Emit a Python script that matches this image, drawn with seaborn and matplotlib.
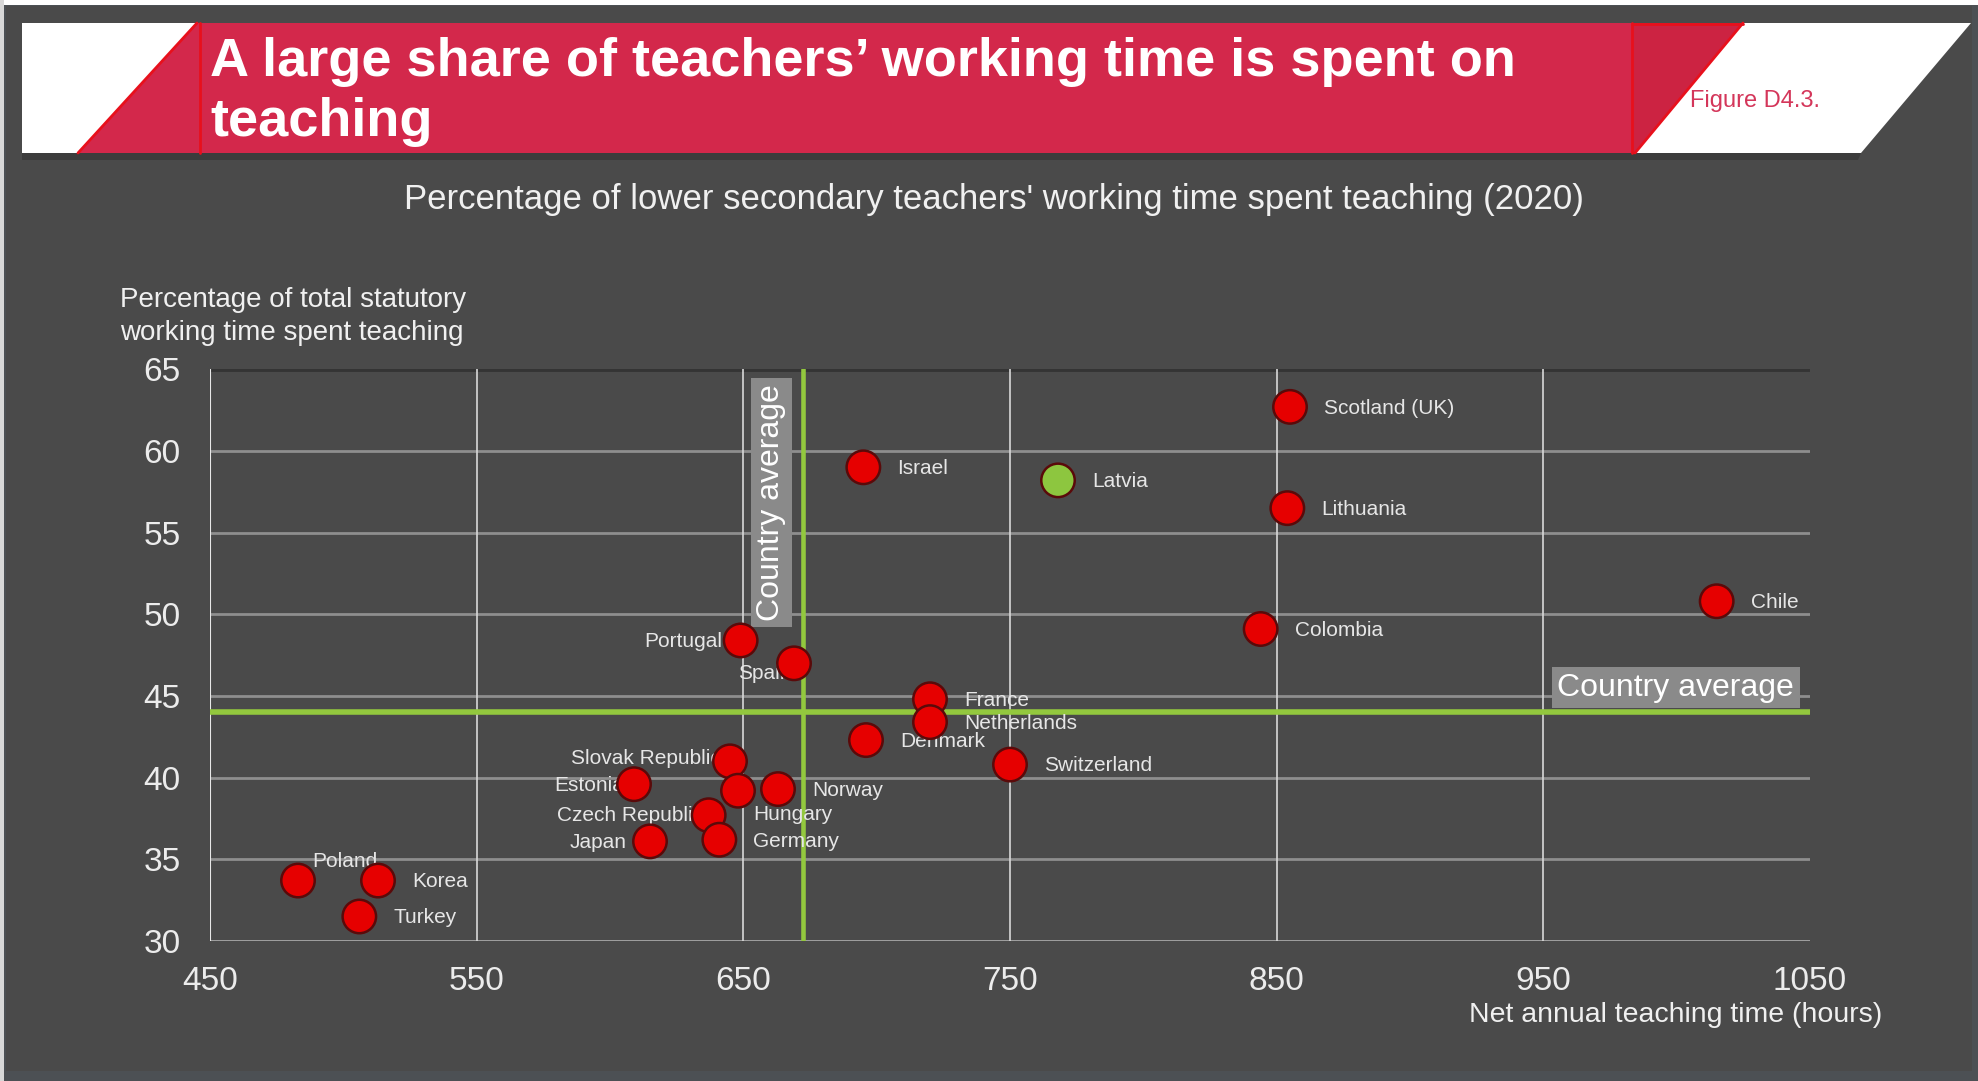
import numpy as np
import pandas as pd
import seaborn as sns
import matplotlib.pyplot as plt
from matplotlib.patches import Polygon, Rectangle

# values
countries = ['Scotland (UK)', 'Israel', 'Latvia', 'Lithuania', 'Chile', 'Colombia',
             'Portugal', 'Spain', 'France', 'Netherlands', 'Denmark', 'Switzerland',
             'Slovak Republic', 'Estonia', 'Hungary', 'Norway', 'Czech Republic',
             'Germany', 'Japan', 'Poland', 'Korea', 'Turkey']
teaching_hours = [855, 695, 768, 854, 1015, 844, 649, 669, 720, 720, 696, 750,
                  645, 609, 648, 663, 637, 641, 615, 483, 513, 506]
pct_teaching = [62.7, 59.0, 58.2, 56.5, 50.8, 49.1, 48.4, 47.0, 44.8, 43.4, 42.3, 40.8,
                41.0, 39.6, 39.2, 39.3, 37.7, 36.2, 36.1, 33.7, 33.7, 31.5]
avg_hours = 672.5
avg_pct = 44.0
x_ticks = [450, 550, 650, 750, 850, 950, 1050]
y_ticks = [30, 35, 40, 45, 50, 55, 60, 65]

df = pd.DataFrame({'country': countries, 'hours': teaching_hours, 'pct': pct_teaching})
df['group'] = np.where(df['country'] == 'Latvia', 'Latvia', 'Other')

# label placement (offset in points, horizontal alignment)
label_pos = {
    'Portugal': (-13, -1, 'right'), 'Spain': (-2, -7, 'right'),
    'Slovak Republic': (-7, 2, 'right'), 'Estonia': (-7, -1, 'right'),
    'Czech Republic': (-4, 0, 'right'), 'Japan': (-17, -1, 'right'),
    'Hungary': (11, -17, 'left'), 'Poland': (34, 14, 'center'),
}

sns.set_style('dark')
plt.rcParams['font.family'] = ['Liberation Sans', 'DejaVu Sans']

W, H = 1978, 1081
fig = plt.figure(figsize=(W / 100, H / 100), dpi=100)
fig.patch.set_facecolor('#4c5054')

def fx(px):
    return px / W

def fy(py):
    return 1 - py / H

# panel and thin white edges
fig.patches.append(Rectangle((fx(6), fy(1071)), fx(1966), 1065 / H, transform=fig.transFigure,
                             fc='#4a4a4a', ec='none', zorder=0))
fig.patches.append(Rectangle((0, fy(5)), 1, 5 / H, transform=fig.transFigure,
                             fc='white', ec='none', zorder=0))
fig.patches.append(Rectangle((0, 0), fx(4), 1, transform=fig.transFigure,
                             fc='#d8d8d8', ec='none', zorder=0))

# banner
def poly(pts, **kw):
    fig.patches.append(Polygon([(fx(a), fy(b)) for a, b in pts], closed=True,
                               transform=fig.transFigure, **kw))

poly([(22, 153), (22, 23), (1971, 23), (1861, 153)], fc='white', ec='none', zorder=1)
poly([(22, 153), (1861, 153), (1858, 160), (22, 160)], fc='#3c3c3c', ec='none', zorder=1)
poly([(78, 153), (197, 23), (1743, 23), (1635, 153)], fc='#d3284b', ec='none', zorder=2)
poly([(1632, 153), (1632, 23), (1743, 23), (1635, 153)], fc='#cc2342', ec='none', zorder=2)
for seg in [[(78, 153), (197, 23)], [(1743, 23), (1635, 153)], [(200, 23), (200, 153)],
            [(1632, 23), (1632, 153)], [(1632, 24), (1743, 24)]]:
    fig.lines.append(plt.Line2D([fx(seg[0][0]), fx(seg[1][0])], [fy(seg[0][1]), fy(seg[1][1])],
                                transform=fig.transFigure, color='#e8101c', lw=2, zorder=3))

fig.text(fx(210), fy(76), 'A large share of teachers\u2019 working time is spent on',
         color='white', fontsize=39, fontweight='bold', va='baseline', ha='left', zorder=4)
fig.text(fx(210), fy(136), 'teaching', color='white', fontsize=39, fontweight='bold',
         va='baseline', ha='left', zorder=4)
fig.text(fx(1690), fy(101), 'Figure D4.3.', color='#d4365a', fontsize=17, va='center', ha='left')

fig.text(fx(994), fy(199), "Percentage of lower secondary teachers' working time spent teaching (2020)",
         color='#f0f0f0', fontsize=25, ha='center', va='center')
fig.text(fx(120), fy(300), 'Percentage of total statutory', color='#f0f0f0', fontsize=20,
         ha='left', va='center')
fig.text(fx(120), fy(333), 'working time spent teaching', color='#f0f0f0', fontsize=20,
         ha='left', va='center')
fig.text(fx(1882), fy(1015), 'Net annual teaching time (hours)', color='#f0f0f0', fontsize=20.5,
         ha='right', va='center')

# plot area
ax = fig.add_axes([fx(210), fy(941), 1600 / W, (941 - 369.3) / H])
ax.set_zorder(5)
ax.set_facecolor('none')
ax.set_xlim(450, 1050)
ax.set_ylim(30, 65)

for yv in y_ticks[1:-1]:
    ax.axhline(yv, color='#8e8e8e', lw=2, zorder=1)
ax.axhline(65, color='#343434', lw=3.5, zorder=1)
ax.axhline(30, color='#a8a8a8', lw=2, zorder=1)
for xv in x_ticks[1:-1]:
    ax.axvline(xv, color='#d8d8d8', lw=1.2, zorder=1)
ax.axvline(450, color='#e8e8e8', lw=1.5, zorder=1)

ax.axhline(avg_pct, color='#93c83e', lw=4, zorder=2)
ax.axvline(avg_hours, color='#93c83e', lw=3.3, zorder=2)

ax.text(1044, 44.6, 'Country average', color='white', fontsize=23, ha='right', va='bottom', zorder=3,
        bbox=dict(boxstyle='square,pad=0.18', fc='#8a8a8a', ec='none'))
ax.text(660.5, 56.85, 'Country average', color='white', fontsize=23, rotation=90,
        ha='center', va='center', zorder=3,
        bbox=dict(boxstyle='square,pad=0.18', fc='#8a8a8a', ec='none'))

for _, r in df.iterrows():
    dx, dy, ha = label_pos.get(r['country'], (24.5, -1, 'left'))
    ax.annotate(r['country'], (r['hours'], r['pct']), xytext=(dx, dy), textcoords='offset points',
                ha=ha, va='center', color='#e6e6e6', fontsize=15, zorder=4)

sns.scatterplot(data=df, x='hours', y='pct', hue='group',
                palette={'Other': '#e60000', 'Latvia': '#8dc63f'},
                s=580, edgecolor='#5a0a0a', linewidth=1.8, legend=False, zorder=6, ax=ax)

ax.set_xticks(x_ticks)
ax.set_yticks(y_ticks)
ax.set_xticklabels([str(v) for v in x_ticks])
ax.set_yticklabels([str(v) for v in y_ticks])
ax.tick_params(axis='both', colors='#ececec', labelsize=24, length=0)
ax.tick_params(axis='x', pad=18)
ax.tick_params(axis='y', pad=21)
ax.set_xlabel('')
ax.set_ylabel('')
ax.grid(False)
for sp in ax.spines.values():
    sp.set_visible(False)

fig.savefig('out.png', dpi=100, facecolor=fig.get_facecolor())
